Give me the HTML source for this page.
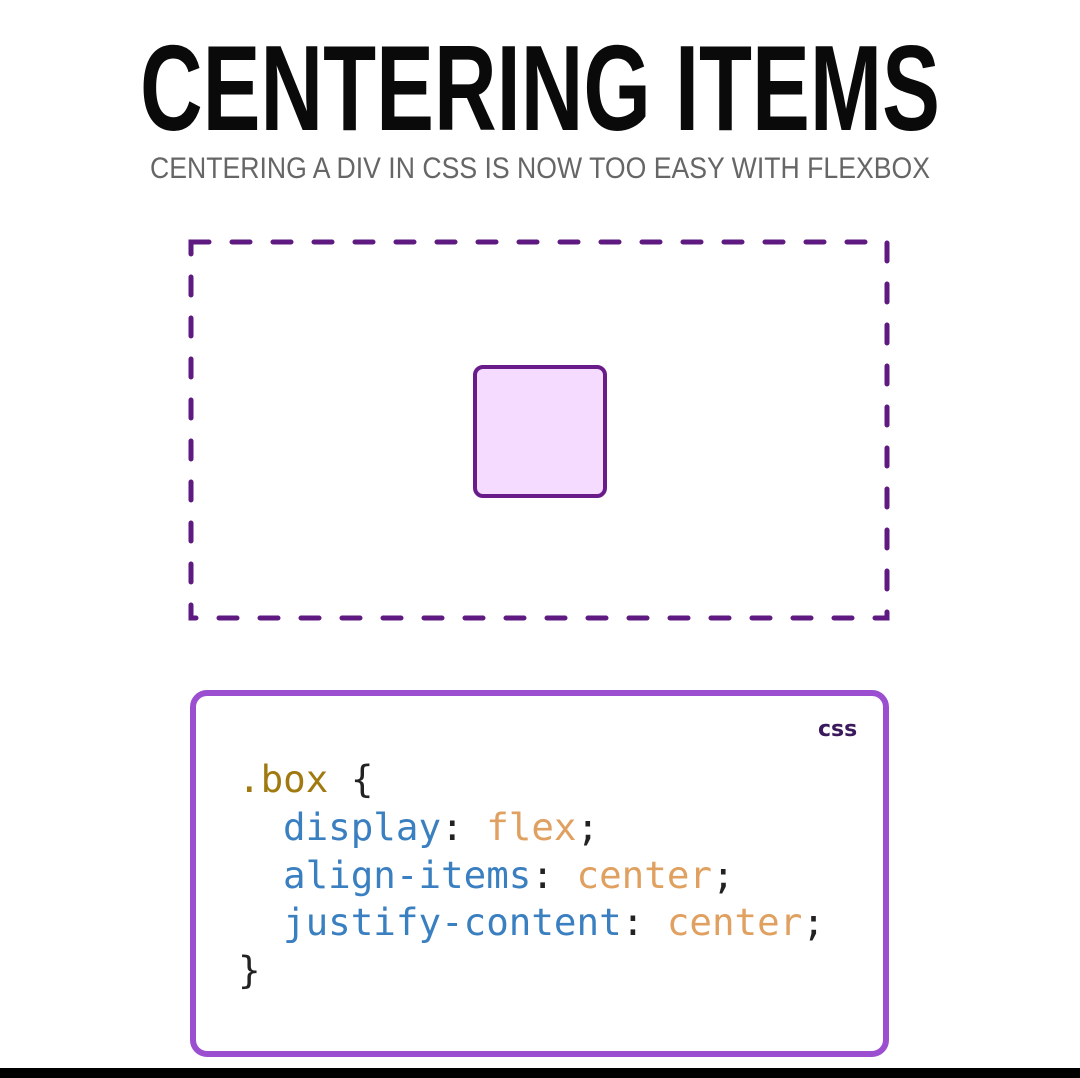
<!DOCTYPE html>
<html><head><meta charset="utf-8"><style>
html,body{margin:0;padding:0;background:#fff;width:1080px;height:1078px;overflow:hidden}
</style></head><body>
<svg width="1080" height="1078" xmlns="http://www.w3.org/2000/svg">
<rect width="1080" height="1078" fill="#fff"/>
<text x="140" y="130" textLength="800" lengthAdjust="spacingAndGlyphs" font-family="Liberation Sans, sans-serif" font-weight="bold" font-size="122" fill="#0a0a0a">CENTERING ITEMS</text>
<text x="150" y="178" textLength="780" lengthAdjust="spacingAndGlyphs" font-family="Liberation Sans, sans-serif" font-size="30" fill="#666">CENTERING A DIV IN CSS IS NOW TOO EASY WITH FLEXBOX</text>
<rect x="191" y="242" width="696" height="376" fill="none" stroke="#5e1a80" stroke-width="5" stroke-dasharray="18 23" stroke-linecap="round"/>
<rect x="475" y="367" width="130" height="129" rx="8" fill="#f5dbff" stroke="#6a1b8a" stroke-width="4"/>
<rect x="193" y="693" width="693" height="361" rx="14" fill="#fff" stroke="#9b4fd0" stroke-width="6"/>
<text x="818" y="736" font-family="DejaVu Sans, sans-serif" font-weight="bold" font-size="22" fill="#3a1a5a">css</text>
<g font-family="DejaVu Sans Mono, Liberation Mono, monospace" font-size="37.5" xml:space="preserve">
<text x="238" y="792"><tspan fill="#a07a10">.box</tspan><tspan fill="#222"> {</tspan></text>
<text x="283" y="840"><tspan fill="#3a7fc0">display</tspan><tspan fill="#222">: </tspan><tspan fill="#e0a060">flex</tspan><tspan fill="#222">;</tspan></text>
<text x="283" y="888"><tspan fill="#3a7fc0">align-items</tspan><tspan fill="#222">: </tspan><tspan fill="#e0a060">center</tspan><tspan fill="#222">;</tspan></text>
<text x="283" y="935"><tspan fill="#3a7fc0">justify-content</tspan><tspan fill="#222">: </tspan><tspan fill="#e0a060">center</tspan><tspan fill="#222">;</tspan></text>
<text x="238" y="983" fill="#222">}</text>
</g>
<rect x="0" y="1068" width="1080" height="10" fill="#000"/>
</svg>
</body></html>
